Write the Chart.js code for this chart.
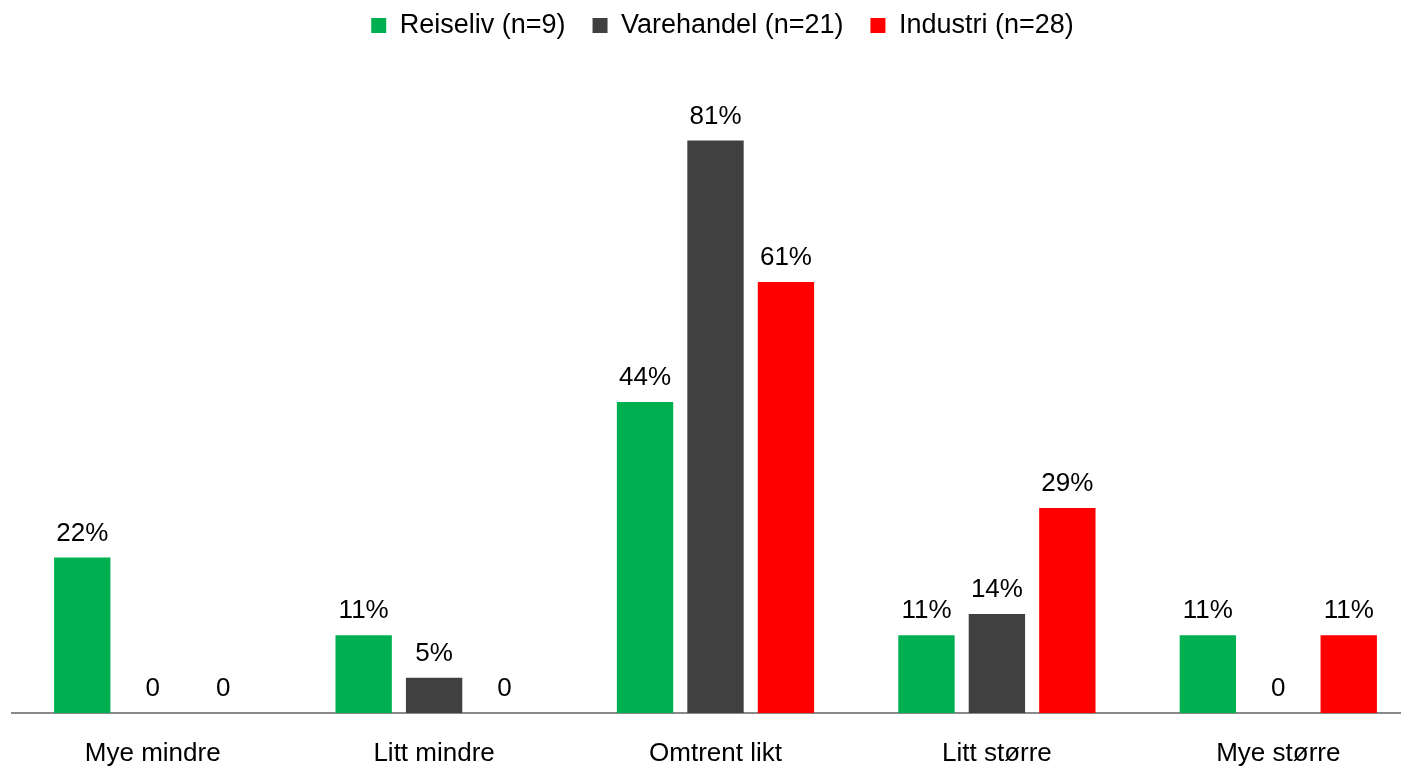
<!DOCTYPE html>
<html lang="no">
<head>
    <meta charset="UTF-8">
    <title>Reiseliv / Varehandel / Industri</title>
    <script src="https://cdn.jsdelivr.net/npm/chart.js"></script>
    <style>
        html, body { margin: 0; padding: 0; background: #fff; overflow: hidden; }
        #wrap { width: 1401px; height: 770px; overflow: hidden; }
    </style>
</head>
<body>
    <!-- plot area runs a little past the right edge, like the original -->
    <div id="wrap"><canvas id="barChart" width="1419" height="770"></canvas></div>

    <script>
        // data
        const categories = ['Mye mindre', 'Litt mindre', 'Omtrent likt', 'Litt større', 'Mye større'];
        const reiseliv = [22, 11, 44, 11, 11];
        const varehandel = [0, 5, 81, 14, 0];
        const industri = [0, 0, 61, 29, 11];
        const seriesNames = ['Reiseliv (n=9)', 'Varehandel (n=21)', 'Industri (n=28)'];
        const colors = ['#00B050', '#404040', '#FF0000'];

        const FONT = "'Liberation Sans', Arial, sans-serif";

        // value labels above bars; zero shown as plain "0"
        const valueLabels = {
            id: 'valueLabels',
            afterDatasetsDraw(chart) {
                const ctx = chart.ctx;
                ctx.save();
                ctx.font = '26px ' + FONT;
                ctx.fillStyle = '#000';
                ctx.textAlign = 'center';
                ctx.textBaseline = 'alphabetic';
                chart.data.datasets.forEach((ds, i) => {
                    chart.getDatasetMeta(i).data.forEach((bar, j) => {
                        const v = ds.data[j];
                        const txt = v === 0 ? '0' : v + '%';
                        ctx.fillText(txt, bar.x, bar.y - 17);
                    });
                });
                ctx.restore();
            }
        };

        // taller legend block so the plot starts lower, legend nudged into place
        const legendSpace = {
            id: 'legendSpace',
            beforeInit(chart) {
                const legend = chart.legend;
                const fit = legend.fit;
                legend.fit = function () {
                    fit.call(this);
                    this.height = 77;
                };
                const draw = legend.draw;
                legend.draw = function () {
                    const c = this.ctx;
                    c.save();
                    c.translate(7, -15);
                    draw.call(this);
                    c.restore();
                };
            }
        };

        const ctx = document.getElementById('barChart').getContext('2d');
        new Chart(ctx, {
            type: 'bar',
            data: {
                labels: categories,
                datasets: [
                    { label: seriesNames[0], data: reiseliv, backgroundColor: colors[0] },
                    { label: seriesNames[1], data: varehandel, backgroundColor: colors[1] },
                    { label: seriesNames[2], data: industri, backgroundColor: colors[2] }
                ]
            },
            options: {
                responsive: false,
                animation: false,
                layout: { padding: { left: 12, right: 0, top: 0, bottom: 0 } },
                datasets: {
                    bar: { categoryPercentage: 0.751, barPercentage: 0.8 }
                },
                plugins: {
                    legend: {
                        position: 'top',
                        labels: {
                            font: { family: FONT, size: 27 },
                            color: '#000',
                            boxWidth: 15,
                            boxHeight: 15,
                            padding: 27
                        }
                    },
                    tooltip: { enabled: false }
                },
                scales: {
                    x: {
                        grid: { display: false },
                        border: { display: true, color: '#898989', width: 2 },
                        ticks: {
                            font: { family: FONT, size: 26 },
                            color: '#000',
                            padding: 17
                        },
                        afterFit(scale) { scale.height = 57; }
                    },
                    y: {
                        display: false,
                        min: 0,
                        max: 90
                    }
                }
            },
            plugins: [valueLabels, legendSpace]
        });
    </script>
</body>
</html>
